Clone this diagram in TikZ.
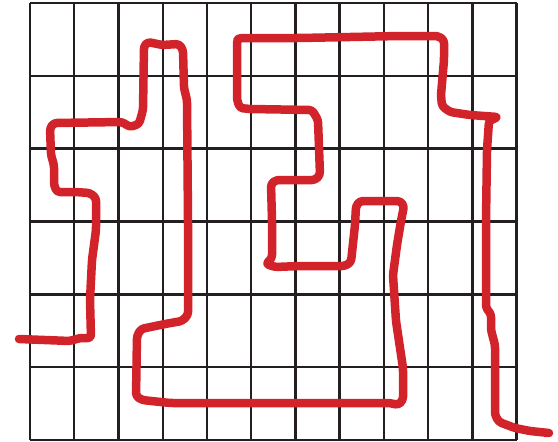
\documentclass[tikz,border=0pt]{standalone}
\usepackage{tikz}
\definecolor{markred}{RGB}{210,35,42}
\definecolor{gridink}{RGB}{35,31,32}
\begin{document}
\begin{tikzpicture}[
        x=1pt, y=-1pt,
        gridline/.style={
            draw=gridink,
            line width=2.4pt
        },
        trail/.style={
            draw=markred,
            line width=8.5pt,
            line cap=round,
            line join=round,
            rounded corners=3pt
        }
    ]
        \useasboundingbox (0,0) rectangle (558,442);

        % grid: 11 columns, 6 rows
        \foreach \i in {0,...,11}
            \draw [gridline] (30+\i*44.24,3) -- (30+\i*44.24,440);
        \foreach \j in {0,...,6}
            \draw [gridline] (30,3+\j*72.83) -- (516.7,3+\j*72.83);

        % hand drawn red trail
        \draw [trail] (19,339) -- (70,341) -- (80,338) -- (91,338) -- (90,300)
            -- (92,260) -- (96,230) -- (96,198) -- (90,193) -- (75,192)
            -- (57,192) -- (54,185) -- (54,165) -- (51,155) -- (50,128)
            -- (54,123) -- (122,122) -- (130,127) -- (139,124) -- (143,110)
            -- (144,46) -- (148,42) -- (162,45) -- (179,44) -- (183,50)
            -- (184,88) -- (187,100) -- (188,221) -- (188,315) -- (182,321)
            -- (165,324) -- (141,329) -- (137,336) -- (136,396) -- (142,400)
            -- (170,403) -- (390,403) -- (398,405) -- (403,400) -- (403,368)
            -- (396,321) -- (393,275) -- (397,245) -- (401,221) -- (404,206)
            -- (400,201) -- (360,201) -- (356,206) -- (355,225) -- (351,262)
            -- (345,266) -- (300,266) -- (275,267) -- (266,264) -- (272,258)
            -- (272,220) -- (271,184) -- (276,180) -- (315,180) -- (320,175)
            -- (318,120) -- (312,110) -- (250,109) -- (240,108) -- (237,100)
            -- (237,40) -- (240,38) -- (300,38) -- (400,36) -- (438,36)
            -- (444,40) -- (444,60) -- (441,95) -- (442,106) -- (450,112)
            -- (470,115) -- (498,117) -- (489,121) -- (487,150) -- (486,221)
            -- (486,308) -- (491,314) -- (491,330) -- (495,345) -- (495,415)
            -- (499,422) -- (515,428) -- (530,431) -- (549,433);
    \end{tikzpicture}
\end{document}
